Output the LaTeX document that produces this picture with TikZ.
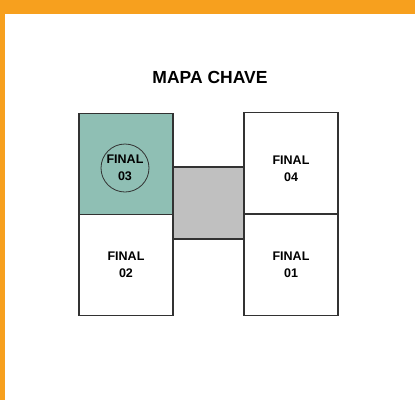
\documentclass[tikz,border=0pt]{standalone}
\usepackage{fontspec}
\setmainfont{Liberation Sans}
\usepackage{xcolor}
\definecolor{framebar}{RGB}{247,160,30}
\definecolor{keyteal}{RGB}{143,191,180}
\definecolor{keygray}{RGB}{192,192,192}
\definecolor{keyline}{RGB}{50,50,50}
\usetikzlibrary{positioning}

\begin{document}
\begin{tikzpicture}[
    x=1pt, y=-1pt,
    lot/.style={
        rectangle,
        draw=keyline,
        fill=white,
        line width=1.1pt,
        align=center,
        minimum width=94pt,
        minimum height=101pt,
        inner sep=0pt,
        font=\fontsize{12.5}{17}\selectfont\bfseries
    },
    link/.style={
        rectangle,
        draw=keyline,
        fill=keygray,
        line width=1.1pt,
        minimum width=71pt,
        minimum height=72pt,
        inner sep=0pt
    },
    lottext/.style={align=center, inner sep=0pt, font=\fontsize{12.5}{17}\selectfont\bfseries},
    keyring/.style={circle, draw=keyline, line width=0.8pt, minimum size=48pt, inner sep=0pt}
]
\useasboundingbox (0,0) rectangle (415,400);

% frame
\fill[framebar] (0,0) rectangle (415,14);
\fill[framebar] (0,0) rectangle (5,400);

\node[font=\fontsize{17.5}{20}\selectfont\bfseries] (title) at (210,77) {MAPA CHAVE};

% center link
\node[link] (hall) at (208.5,203) {};

% lots
\node[lot, fill=keyteal] (lot03) at (126,164) {};
\node[lot] (lot02) at (126,265) {FINAL\\02};
\node[lot] (lot04) at (291,163) {};
\node[lot] (lot01) at (291,265) {FINAL\\01};

\node[lottext] (lab04) at (291,169) {FINAL\\04};
\node[keyring, lottext] (key03) at (125,168) {FINAL\\03};

\end{tikzpicture}
\end{document}
